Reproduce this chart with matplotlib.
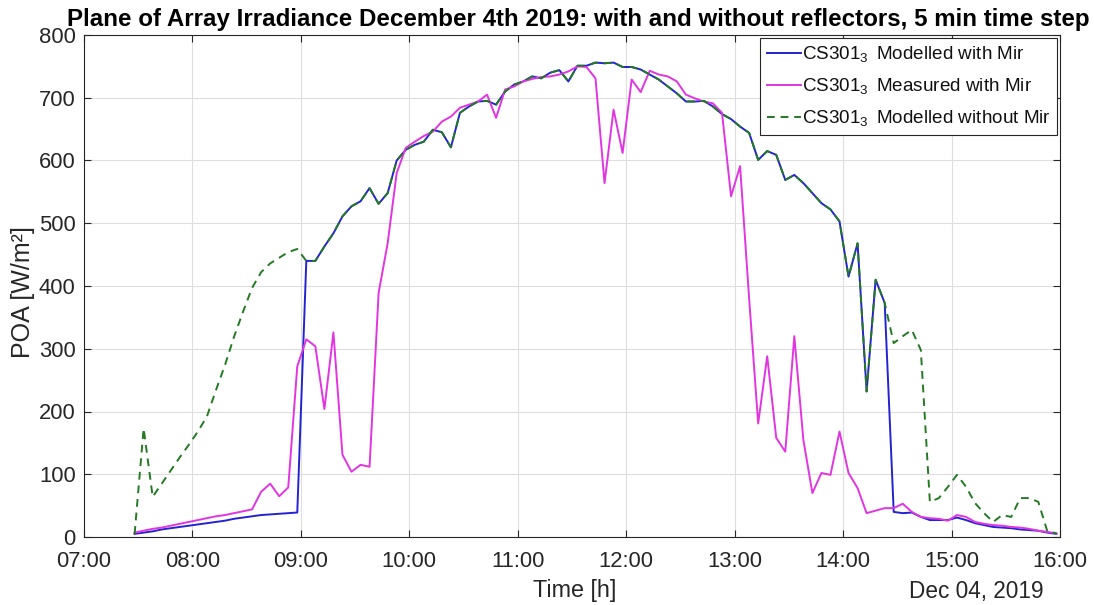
import matplotlib
matplotlib.use('Agg')
import matplotlib.pyplot as plt
import matplotlib.dates as mdates
import pandas as pd

plt.rcParams['font.family'] = ['Liberation Sans', 'DejaVu Sans']
plt.rcParams['mathtext.fontset'] = 'custom'
plt.rcParams['mathtext.rm'] = 'Liberation Sans'

# 5 min samples, 07:28 -> 15:58
times = pd.date_range('2019-12-04 07:28', periods=103, freq='5min')

modelled_with = [
    5, 7, 9, 12, 14, 16, 18, 20, 22, 24, 26, 29, 31, 33, 35, 36, 37, 38, 39,
    440, 440, 463, 484, 511, 527, 535, 556, 531, 548, 600, 617, 625, 630, 649,
    645, 621, 676, 686, 694, 695, 689, 710, 721, 726, 734, 731, 740, 744, 726,
    751, 751, 756, 755, 756, 749, 749, 745, 737, 729, 718, 707, 694, 694, 695,
    686, 674, 666, 654, 644, 601, 615, 609, 569, 577, 564, 548, 532, 522, 503,
    415, 468, 232, 410, 373,
    40, 38, 39, 32, 27, 27, 27, 31, 27, 22, 19, 16, 15, 14, 12, 11, 10, 7, 5,
]

measured_with = [
    7, 10, 13, 15, 18, 21, 24, 27, 30, 33, 35, 38, 41, 44, 72, 85, 65, 79,
    272, 315, 304, 204, 326, 131, 104, 115, 112, 389, 468, 580, 620, 630,
    639, 646, 662, 670, 684, 689, 694, 705, 668, 713, 718, 726, 730, 733, 734,
    737, 742, 750, 749, 731, 564, 681, 612, 729, 709, 743, 737, 734, 726, 705,
    699, 694, 691, 676, 543, 591, 380,
    181, 288, 158, 136, 320, 155, 70, 102, 99, 168, 102, 78, 38, 42, 46, 46,
    53, 40, 32, 30, 29, 26, 35, 32, 24, 21, 19, 18, 16, 15, 13, 10, 8, 6,
]

modelled_without = [
    5, 173, 64, 85, 106, 127, 147, 168, 192, 234, 274, 319, 359, 397, 422, 436,
    445, 454, 459,
    440, 440, 463, 484, 511, 527, 535, 556, 531, 548, 600, 617, 625, 630, 649,
    645, 621, 676, 686, 694, 695, 689, 710, 721, 726, 734, 731, 740, 744, 726,
    751, 751, 756, 755, 756, 749, 749, 745, 737, 729, 718, 707, 694, 694, 695,
    686, 674, 666, 654, 644, 601, 615, 609, 569, 577, 564, 548, 532, 522, 503,
    415, 468, 232, 410, 373,
    309, 320, 330, 298, 56, 62, 80, 99, 80, 54, 38, 24, 35, 32, 62, 62, 56, 9, 6,
]

labels = [r'CS301$_\mathrm{3}\,$ Modelled with Mir',
          r'CS301$_\mathrm{3}\,$ Measured with Mir',
          r'CS301$_\mathrm{3}\,$ Modelled without Mir']

txt = '#262626'

fig = plt.figure(figsize=(10.94, 6.05), dpi=100)
ax = fig.add_axes([84 / 1094, 1 - 537 / 605, 976 / 1094, 502 / 605])

ax.plot(times, modelled_with, color='#2323d2', lw=1.4, label=labels[0])
ax.plot(times, measured_with, color='#e235e2', lw=1.4, label=labels[1])
ax.plot(times, modelled_without, color='#237a23', lw=1.4,
        ls=(0, (4, 3)), label=labels[2])

ax.set_xlim(pd.Timestamp('2019-12-04 07:00'), pd.Timestamp('2019-12-04 16:00'))
ax.set_ylim(0, 800)
ax.set_yticks(range(0, 801, 100))
ax.xaxis.set_major_locator(mdates.HourLocator())
ax.xaxis.set_major_formatter(mdates.DateFormatter('%H:%M'))

ax.grid(True, color='#dedede', lw=0.8)
ax.set_axisbelow(True)
ax.tick_params(direction='in', top=True, right=True, length=5, width=0.8,
               labelsize=15.8, colors=txt)
ax.tick_params(axis='x', pad=10)
ax.tick_params(axis='y', pad=6)
for s in ax.spines.values():
    s.set_color(txt)
    s.set_linewidth(0.8)

leg = ax.legend(loc='upper right', fontsize=13.6, fancybox=False,
                edgecolor=txt, framealpha=1, borderaxespad=0.15,
                handlelength=1.8, handletextpad=0.05, labelspacing=0.62,
                borderpad=0.35)
leg.get_frame().set_linewidth(0.8)
for t in leg.get_texts():
    t.set_color('#111111')

fig.text(0.529, 1 - 26 / 605,
         'Plane of Array Irradiance December 4th 2019: with and without '
         'reflectors, 5 min time step',
         ha='center', va='baseline', fontsize=17.4, fontweight='bold')
fig.text(23 / 1094, 1 - 292 / 605, 'POA [W/m²]', rotation=90,
         ha='center', va='center', fontsize=18, color=txt)
fig.text(575 / 1094, 1 - 597 / 605, 'Time [h]', ha='center', va='baseline',
         fontsize=16.8, color=txt)
fig.text(976 / 1094, 1 - 598 / 605, 'Dec 04, 2019', ha='center',
         va='baseline', fontsize=16.3, color=txt)

fig.savefig('out.png', dpi=100)
